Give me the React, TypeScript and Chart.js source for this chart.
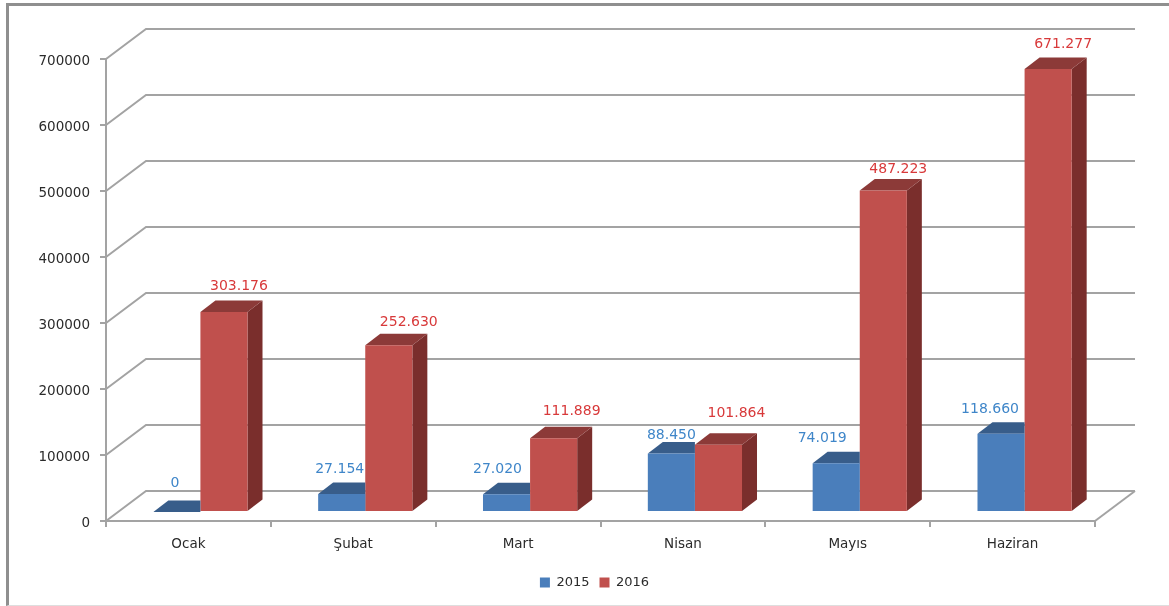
import React, { useEffect, useRef } from "react";
import { Chart, registerables } from "chart.js";

Chart.register(...registerables);

const categories = ["Ocak", "Şubat", "Mart", "Nisan", "Mayıs", "Haziran"];
const series2015 = [0, 27154, 27020, 88450, 74019, 118660];
const series2016 = [303176, 252630, 111889, 101864, 487223, 671277];
const seriesNames = ["2015", "2016"];
const yTicks = { min: 0, max: 700000, step: 100000 };

// The original's labels were hand-placed: offsets from each bar's top centre.
const labelNudge2015 = [[-2, -29], [-2, -25], [-9, -25], [0, -18], [-14, -25], [-11, -24]];
const labelNudge2016 = [[15, -26], [20, -23], [18, -27], [18, -31], [15, -21], [15, -25]];

const FRONT = ["#4a7ebb", "#c0504d"];
const TOP = ["#385d8a", "#8c3a38"];
const SIDE = ["#2f4f75", "#7a2e2c"];
const LABEL = ["#3f86c9", "#d8393a"];
const GRID = "#a3a3a3";
const FONT = "'DejaVu Sans'";
const WALL = { dx: 40, dy: -30 };
const BAR_SHIFT = { dx: 12, dy: -9 };
const BAR_DEPTH = { dx: 15, dy: -11.5 };
const LEGEND_SHIFT = -6;

const fmt = (v: number) => String(v).replace(/\B(?=(\d{3})+$)/g, ".");

const poly = (ctx: CanvasRenderingContext2D, pts: number[][], fill: string) => {
  ctx.beginPath();
  pts.forEach(([x, y], i) => (i ? ctx.lineTo(x, y) : ctx.moveTo(x, y)));
  ctx.closePath();
  ctx.fillStyle = fill;
  ctx.fill();
};

const threeD = {
  id: "threeD",
  afterLayout(chart: any) {
    chart.legend.left += LEGEND_SHIFT;
    chart.legend.right += LEGEND_SHIFT;
  },
  beforeDatasetsDraw(chart: any) {
    const { ctx, scales } = chart;
    const { left, right, bottom } = chart.chartArea;
    const y = scales.y;
    ctx.save();
    ctx.strokeStyle = GRID;
    ctx.lineWidth = 2;
    y.ticks.forEach((t: any) => {
      const p = y.getPixelForValue(t.value);
      ctx.beginPath();
      ctx.moveTo(left, p);
      ctx.lineTo(left + WALL.dx, p + WALL.dy);
      ctx.lineTo(right + WALL.dx, p + WALL.dy);
      ctx.stroke();
    });
    ctx.beginPath();
    ctx.moveTo(right, bottom);
    ctx.lineTo(right + WALL.dx, bottom + WALL.dy);
    ctx.stroke();
    ctx.restore();
  },
  beforeDatasetDraw(chart: any, args: any) {
    const { ctx } = chart;
    const i = args.index;
    ctx.save();
    ctx.translate(BAR_SHIFT.dx, BAR_SHIFT.dy);
    args.meta.data.forEach((el: any) => {
      const l = el.x - el.width / 2;
      const r = el.x + el.width / 2;
      const { dx, dy } = BAR_DEPTH;
      ctx.save();
      if (i === 0) {
        // The 2016 bar stands in front of the 2015 bar's depth faces.
        ctx.beginPath();
        ctx.rect(l, 0, el.width, chart.height);
        ctx.clip();
      }
      poly(ctx, [[r, el.y], [r + dx, el.y + dy], [r + dx, el.base + dy], [r, el.base]], SIDE[i]);
      poly(ctx, [[l, el.y], [l + dx, el.y + dy], [r + dx, el.y + dy], [r, el.y]], TOP[i]);
      ctx.restore();
    });
  },
  afterDatasetDraw(chart: any) {
    chart.ctx.restore();
  },
  afterDatasetsDraw(chart: any) {
    const { ctx, data } = chart;
    ctx.save();
    ctx.font = `14px ${FONT}`;
    ctx.textAlign = "center";
    ctx.textBaseline = "middle";
    [labelNudge2015, labelNudge2016].forEach((nudge, i) => {
      chart.getDatasetMeta(i).data.forEach((el: any, k: number) => {
        ctx.fillStyle = LABEL[i];
        ctx.fillText(
          fmt(data.datasets[i].data[k]),
          el.x + BAR_SHIFT.dx + nudge[k][0],
          el.y + BAR_SHIFT.dy + nudge[k][1]
        );
      });
    });
    ctx.restore();
  },
};

export default function App() {
  const ref = useRef<HTMLCanvasElement>(null);
  useEffect(() => {
    document.body.style.margin = "0";
    document.body.style.background = "#ffffff";
    const chart = new Chart(ref.current!, {
      type: "bar",
      plugins: [threeD],
      data: {
        labels: categories,
        datasets: [
          { label: seriesNames[0], data: series2015, backgroundColor: FRONT[0], clip: false },
          { label: seriesNames[1], data: series2016, backgroundColor: FRONT[1], clip: false },
        ] as any,
      },
      options: {
        responsive: false,
        animation: false,
        layout: { padding: { left: 0, right: 74, top: 59, bottom: 7 } },
        datasets: { bar: { barPercentage: 1, categoryPercentage: 0.5714 } },
        plugins: {
          tooltip: { enabled: false },
          legend: {
            position: "bottom",
            fullSize: false,
            labels: {
              boxWidth: 10,
              boxHeight: 10,
              padding: 10,
              color: "#2b2b2b",
              font: { family: FONT, size: 13 },
            },
          },
        },
        scales: {
          x: {
            afterFit: (s: any) => { s.height = 45; },
            grid: { drawOnChartArea: false, color: GRID, lineWidth: 2, tickLength: 6 },
            border: { color: GRID, width: 2 },
            ticks: { color: "#2b2b2b", font: { family: FONT, size: 13.5 }, padding: 9, maxRotation: 0 },
          },
          y: {
            min: yTicks.min,
            max: yTicks.max,
            afterFit: (s: any) => { s.width = 106; },
            grid: { drawOnChartArea: false, color: GRID, lineWidth: 2, tickLength: 6 },
            border: { color: GRID, width: 2 },
            ticks: {
              stepSize: yTicks.step,
              color: "#2b2b2b",
              padding: 10,
              labelOffset: 2.5,
              font: { family: FONT, size: 13.5 },
              callback: (v: any) => String(v),
            },
          },
        },
      } as any,
    });
    return () => chart.destroy();
  }, []);
  return (
    <div style={{ position: "relative", width: 1169, height: 606, overflow: "hidden", background: "#fff" }}>
      <canvas ref={ref} width={1169} height={606} style={{ display: "block" }} />
      <div
        style={{
          position: "absolute",
          left: 6,
          top: 3,
          right: -5,
          bottom: 0,
          borderTop: "3px solid #8f8f8f",
          borderLeft: "3px solid #8f8f8f",
          borderBottom: "1px solid #dedede",
          pointerEvents: "none",
        }}
      />
    </div>
  );
}
